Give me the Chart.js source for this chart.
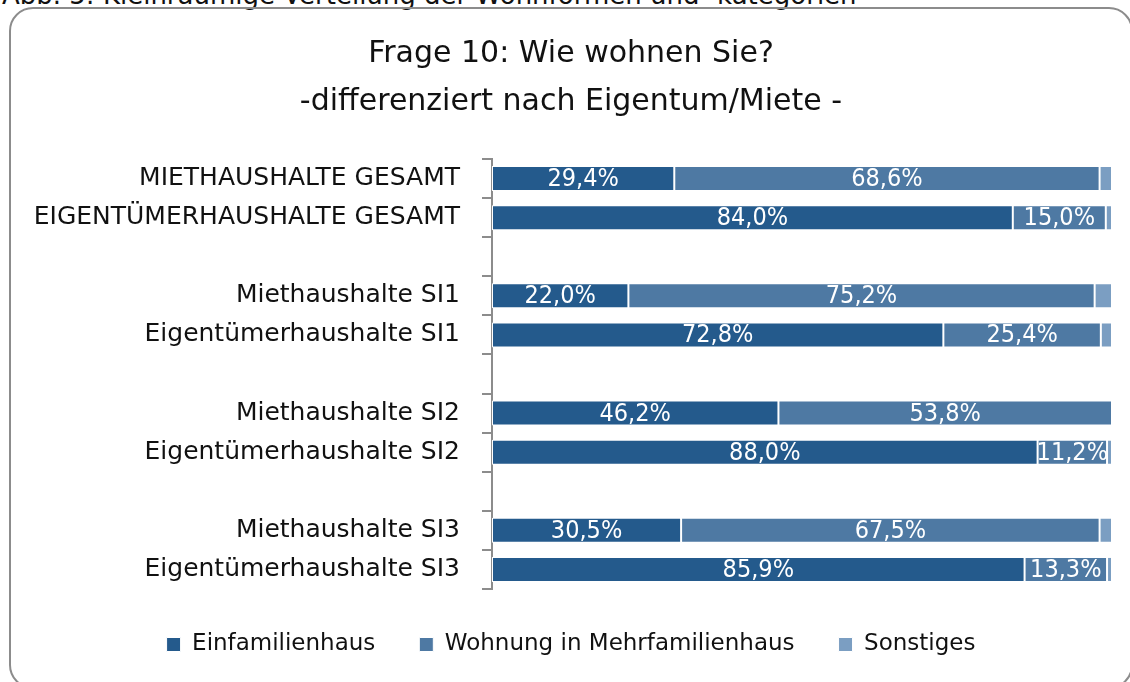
<!DOCTYPE html>
<html>
<head>
<meta charset="utf-8">
<script src="https://cdn.jsdelivr.net/npm/chart.js@4"></script>
<style>
  html, body { margin: 0; padding: 0; background: #fff; }
  body { width: 1130px; height: 682px; position: relative; overflow: hidden; }
  #caption {
    position: absolute; left: 2px; top: -20px;
    font: 26px "DejaVu Sans", sans-serif; color: #111;
    white-space: nowrap;
  }
  #frame {
    position: absolute; left: 9px; top: 7px; width: 1124px; height: 682px;
    border: 2px solid #8c8c8c; border-radius: 24px; box-sizing: border-box;
  }
  #wrap { position: absolute; left: 0; top: 0; width: 1130px; height: 682px; }
</style>
</head>
<body>
<div id="caption">Abb. 5: Kleinräumige Verteilung der Wohnformen und -kategorien</div>
<div id="frame"></div>
<div id="wrap"><canvas id="chart"></canvas></div>
<script>
// Categories (empty strings are the gaps between the groups)
const categories = [
    'MIETHAUSHALTE GESAMT', 'EIGENTÜMERHAUSHALTE GESAMT', '',
    'Miethaushalte SI1', 'Eigentümerhaushalte SI1', '',
    'Miethaushalte SI2', 'Eigentümerhaushalte SI2', '',
    'Miethaushalte SI3', 'Eigentümerhaushalte SI3'
];

// Shares in percent
const einfamilienhaus = [29.4, 84.0, null, 22.0, 72.8, null, 46.2, 88.0, null, 30.5, 85.9];
const wohnung = [68.6, 15.0, null, 75.2, 25.4, null, 53.8, 11.2, null, 67.5, 13.3];
const sonstiges = [2.0, 1.0, null, 2.8, 1.8, null, 0.0, 0.8, null, 2.0, 0.8];

const seriesNames = ['Einfamilienhaus', 'Wohnung in Mehrfamilienhaus', 'Sonstiges'];
const seriesColors = ['#245a8c', '#4e79a3', '#7b9ec2'];

const titleLines = ['Frage 10: Wie wohnen Sie?', '-differenziert nach Eigentum/Miete -'];

// Draw the percentage inside the first two segments
const barLabels = {
    id: 'barLabels',
    afterDatasetsDraw(chart) {
        const ctx = chart.ctx;
        ctx.save();
        ctx.fillStyle = '#fff';
        ctx.font = '25px "Liberation Sans Narrow", "DejaVu Sans Condensed", sans-serif';
        ctx.textAlign = 'center';
        ctx.textBaseline = 'middle';
        [0, 1].forEach(di => {
            const meta = chart.getDatasetMeta(di);
            meta.data.forEach((bar, i) => {
                const v = chart.data.datasets[di].data[i];
                if (v == null || v <= 0) return;
                const x = (bar.x + bar.base) / 2;
                ctx.fillText(v.toFixed(1).replace('.', ',') + '%', x, bar.y + 1);
            });
        });
        ctx.restore();
    }
};

new Chart(document.getElementById('chart'), {
    type: 'bar',
    data: {
        labels: categories,
        datasets: [
            { label: seriesNames[0], data: einfamilienhaus, backgroundColor: seriesColors[0] },
            { label: seriesNames[1], data: wohnung, backgroundColor: seriesColors[1] },
            { label: seriesNames[2], data: sonstiges, backgroundColor: seriesColors[2] }
        ]
    },
    options: {
        indexAxis: 'y',
        responsive: true,
        maintainAspectRatio: false,
        animation: false,
        datasets: {
            bar: {
                categoryPercentage: 1,
                barPercentage: 0.64,
                borderColor: '#ffffff',
                borderWidth: 1,
                borderSkipped: false
            }
        },
        layout: { padding: { left: 30, right: 18, top: 0, bottom: 16 } },
        scales: {
            x: { stacked: true, min: 0, max: 100, display: false },
            y: {
                stacked: true,
                afterFit(scale) { scale.width = 462; },
                grid: {
                    drawOnChartArea: false,
                    drawTicks: true,
                    tickLength: 10,
                    color: '#8c8c8c',
                    lineWidth: 2
                },
                border: { display: true, color: '#8c8c8c', width: 2 },
                ticks: {
                    padding: 22,
                    color: '#111',
                    font: { family: '"DejaVu Sans", sans-serif', size: 25 }
                }
            }
        },
        plugins: {
            title: {
                display: true,
                text: titleLines,
                color: '#111',
                font: { family: '"DejaVu Sans", sans-serif', size: 30, weight: 'normal', lineHeight: 1.6 },
                padding: { top: 30, bottom: 33 }
            },
            legend: {
                position: 'bottom',
                labels: {
                    boxWidth: 14,
                    boxHeight: 14,
                    padding: 44,
                    color: '#111',
                    font: { family: '"DejaVu Sans", sans-serif', size: 23 }
                }
            },
            tooltip: { enabled: false }
        }
    },
    plugins: [barLabels]
});
</script>
</body>
</html>
